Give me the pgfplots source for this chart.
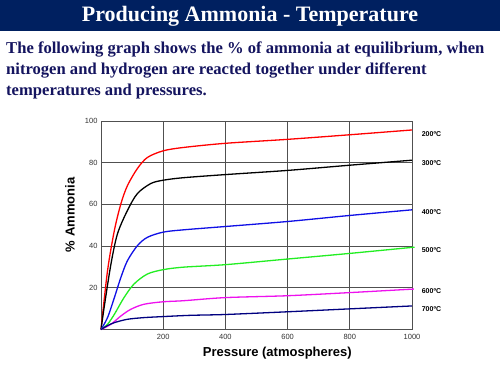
\documentclass[border=0pt]{standalone}
\usepackage{pgfplots}
\pgfplotsset{compat=1.18}
\usepackage{fontspec}
\setmainfont{Liberation Serif}
\setsansfont{Liberation Sans}
\definecolor{barblue}{HTML}{002060}
\definecolor{textblue}{HTML}{14145F}
\definecolor{gridgray}{HTML}{505050}
\definecolor{mygreen}{HTML}{22EE22}
\definecolor{mymag}{HTML}{EE11EE}
\definecolor{mynavy}{HTML}{000080}
\definecolor{myblue}{HTML}{1010E6}
\begin{document}
\begin{tikzpicture}[x=1pt,y=1pt]
\path[use as bounding box,fill=white] (0,0) rectangle (500,375);
\fill[barblue] (0,344) rectangle (500,375);
\node[text=white,font=\fontsize{22}{24}\selectfont\bfseries] at (250,359) {Producing Ammonia - Temperature};
\node[anchor=north west,text=textblue,align=left,inner sep=0pt,font=\fontsize{16.6}{21}\selectfont\bfseries] at (6,333)
 {The following graph shows the \% of ammonia at equilibrium, when\\nitrogen and hydrogen are reacted together under different\\temperatures and pressures.};
\begin{axis}[
  at={(101pt,45.5pt)}, anchor=south west,
  width=311pt, height=208.5pt, scale only axis,
  xmin=0, xmax=1000, ymin=0, ymax=100,
  xtick={200,400,600,800,1000}, ytick={20,40,60,80,100},
  /pgf/number format/1000 sep={},
  grid=major,
  major grid style={gridgray, line width=0.9pt},
  axis line style={gridgray, line width=0.9pt},
  tick style={draw=none},
  ticklabel style={font=\sffamily\fontsize{7.5}{9}\selectfont, text=black!80},
  xticklabel style={yshift=-1.5pt},
  /pgf/number format/assume math mode=true,
  xlabel={\textbf{Pressure (atmospheres)}},
  ylabel={\textbf{\% Ammonia}},
  xlabel style={font=\sffamily\fontsize{13}{15}\selectfont, at={(axis description cs:0.567,-0.115)}, anchor=center},
  ylabel style={font=\sffamily\fontsize{13}{15}\selectfont, at={(axis description cs:-0.1,0.55)}, anchor=center},
  clip=false,
  every axis plot/.append style={line width=1.3pt, smooth, no markers},
]
\addplot[red] coordinates {(0,0)(21,28.2)(43,47.5)(64,60.3)(85,69)(117,77.2)(149,82.5)(200,85.7)(265,87.3)(400,89.3)(600,91.2)(800,93.4)(1000,95.7)};
\addplot[black] coordinates {(0,0)(10,10.5)(32,31.4)(53,45.9)(85,57.1)(117,65.2)(160,70)(200,71.6)(265,72.8)(400,74.3)(600,76.3)(800,78.8)(1000,81.2)};
\addplot[myblue] coordinates {(0,0)(21,5.7)(43,15.3)(64,25)(85,33)(117,40.2)(149,44.2)(200,46.7)(265,47.8)(400,49.4)(600,51.8)(800,54.7)(1000,57.4)};
\addplot[mygreen] coordinates {(0,0)(21,2.5)(43,7.3)(74,15.3)(106,21.8)(149,26.6)(200,28.7)(265,29.9)(400,31.1)(600,33.8)(800,36.5)(1008,39.5)};
\addplot[mymag] coordinates {(0,0)(32,2.5)(64,6.5)(96,9.7)(138,12.1)(200,13.3)(265,13.8)(400,15.3)(600,16.2)(800,17.7)(1006,19.4)};
\addplot[mynavy] coordinates {(0,0)(20,1.8)(43,3.3)(85,4.9)(138,5.7)(200,6.2)(288,6.8)(400,7.2)(600,8.5)(800,9.9)(1000,11.3)};
\begin{scope}[every node/.style={anchor=west, font=\sffamily\bfseries\fontsize{7}{8}\selectfont, inner sep=0pt}]
\node at (axis cs:1031,93.8) {200ºC};
\node at (axis cs:1031,79.6) {300ºC};
\node at (axis cs:1031,56.1) {400ºC};
\node at (axis cs:1031,37.9) {500ºC};
\node at (axis cs:1031,18.5) {600ºC};
\node at (axis cs:1031,9.9) {700ºC};
\end{scope}
\end{axis}
\end{tikzpicture}
\end{document}
